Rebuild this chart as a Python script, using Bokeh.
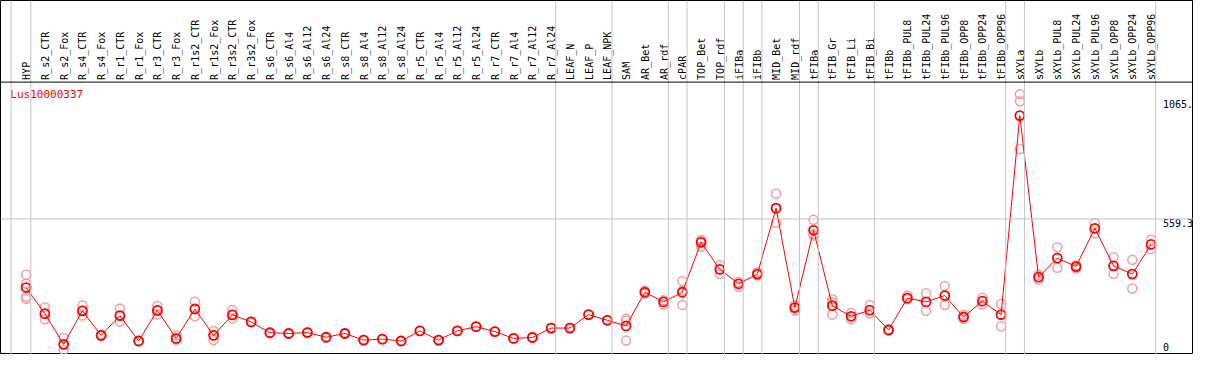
import math
from bokeh.plotting import figure
from bokeh.models import Range1d, Span, ColumnDataSource
from bokeh.embed import file_html
from bokeh.resources import INLINE
from bokeh.core.properties import value

title = "Lus10000337"

samples = [
    "HYP", "R_s2_CTR", "R_s2_Fox", "R_s4_CTR", "R_s4_Fox", "R_r1_CTR", "R_r1_Fox",
    "R_r3_CTR", "R_r3_Fox", "R_r1s2_CTR", "R_r1s2_Fox", "R_r3s2_CTR", "R_r3s2_Fox",
    "R_s6_CTR", "R_s6_Al4", "R_s6_Al12", "R_s6_Al24", "R_s8_CTR", "R_s8_Al4",
    "R_s8_Al12", "R_s8_Al24", "R_r5_CTR", "R_r5_Al4", "R_r5_Al12", "R_r5_Al24",
    "R_r7_CTR", "R_r7_Al4", "R_r7_Al12", "R_r7_Al24", "LEAF_N", "LEAF_P", "LEAF_NPK",
    "SAM", "AR_Bet", "AR_rdf", "cPAR", "TOP_Bet", "TOP_rdf", "iFIBa", "iFIBb",
    "MID_Bet", "MID_rdf", "tFIBa", "tFIB_Gr", "tFIB_Li", "tFIB_Bi", "tFIBb",
    "tFIBb_PUL8", "tFIBb_PUL24", "tFIBb_PUL96", "tFIBb_OPP8", "tFIBb_OPP24",
    "tFIBb_OPP96", "sXYLa", "sXYLb", "sXYLb_PUL8", "sXYLb_PUL24", "sXYLb_PUL96",
    "sXYLb_OPP8", "sXYLb_OPP24", "sXYLb_OPP96",
]

means = [
    268, 157, 27, 169, 65, 149, 41, 171, 52, 177, 65, 152, 122,
    76, 73, 77, 57, 73, 45, 49, 41, 84, 45, 84, 102, 81, 52, 56, 96,
    96, 153, 129, 105, 248, 207, 248, 460, 345, 284, 325, 605, 183,
    511, 191, 146, 172, 88, 223, 207, 234, 143, 210, 153,
    998, 312, 393, 357, 519, 360, 325, 451,
]

replicates = [
    [322, 284, 230, 220], [184, 133, 157], [54, 4, 27], [192, 149, 169],
    [62, 68, 65], [179, 123, 149], [42, 40], [190, 154, 171], [65, 46, 48],
    [208, 146, 177], [84, 45, 65], [173, 138, 152], [124, 120],
    [77, 75], [74, 72], [78, 76], [58, 56], [74, 72], [46, 44], [50, 48],
    [42, 40], [85, 83], [46, 44], [85, 83], [103, 101], [82, 80], [53, 51],
    [57, 55], [97, 95], [97, 95], [154, 152], [130, 128],
    [135, 127, 43], [255, 241], [196, 214], [295, 194, 255],
    [468, 441, 470], [363, 325], [292, 271], [333, 320], [667, 543, 605],
    [192, 171], [556, 489, 495], [218, 153, 206], [160, 133], [193, 158],
    [91, 85], [233, 218], [244, 169], [275, 194], [153, 135], [225, 196],
    [198, 104], [1089, 1059, 856], [322, 302], [439, 352], [349, 363],
    [541, 498], [397, 325], [386, 264], [471, 431],
]

group_ends = [0, 28, 31, 34, 35, 37, 38, 39, 41, 42, 45, 52, 53, 60]
ytick_values = [0, 559.3, 1065.0]
ytick_labels = ["0", "559.3", "1065."]

# ---- layout (reference pixel geometry -> data units) ----
W, H = 1193, 354
REF_W, REF_H = 1209, 370
col_px = 19.0
x_first = 26.0
y_zero = 366.0
px_per_unit = (366.0 - 228.3) / 559.3


def xi(ref_x):
    return (ref_x - x_first) / col_px


def yv(ref_y):
    return (y_zero - ref_y) / px_per_unit


p = figure(width=W, height=H, output_backend="svg", toolbar_location=None,
           x_range=Range1d(xi(0), xi(REF_W)), y_range=Range1d(yv(REF_H), yv(0)),
           x_axis_type=None, y_axis_type=None, min_border=0)
p.grid.visible = False
p.outline_line_color = "black"
p.outline_line_width = 1
p.background_fill_color = "white"
p.border_fill_color = "white"

grey = "#c4c4c4"
font = value("DejaVu Sans Mono")

# group separators
p.add_layout(Span(location=xi(10.7), dimension="height", line_color=grey, line_width=1))
for g in group_ends:
    p.add_layout(Span(location=g + 4.7 / col_px, dimension="height",
                      line_color=grey, line_width=1))
# horizontal grid at middle tick
p.add_layout(Span(location=ytick_values[1], dimension="width", line_color=grey, line_width=1))
# header separator
p.add_layout(Span(location=yv(85.3), dimension="width", line_color="black", line_width=1))

idx = list(range(len(samples)))

# header labels
hdr = ColumnDataSource(dict(x=idx, y=[yv(83)] * len(samples), t=samples))
p.text(x="x", y="y", text="t", source=hdr, angle=math.pi / 2, text_align="left",
       text_baseline="middle", x_offset=0.5, text_font=font, text_font_size="10px",
       text_color="black")

# title
p.text(x=[xi(10)], y=[yv(91)], text=[title], text_align="left", text_baseline="top",
       text_font=font, text_font_size="11px", text_color="#ff0000")

# right-side value labels
lab_x = xi(1178)
p.text(x=[lab_x, lab_x], y=ytick_values[1:], text=ytick_labels[1:], text_align="left",
       text_baseline="top", text_font=font, text_font_size="10px", text_color="black")
p.text(x=[lab_x], y=[ytick_values[0]], text=[ytick_labels[0]], text_align="left",
       text_baseline="bottom", text_font=font, text_font_size="10px", text_color="black")

# replicate points
rx, ry = [], []
for i, reps in enumerate(replicates):
    for r in reps:
        rx.append(i)
        ry.append(r)
p.scatter(rx, ry, marker="circle", size=9, fill_color=None,
          line_color="#f0a0a0", line_width=1.5)

# mean line & points
p.line(idx, means, line_color="#ff0000", line_width=1)
p.scatter(idx, means, marker="circle", size=9, fill_color=None,
          line_color="#ff0000", line_width=1.8)

open("out.html", "w").write(file_html(p, INLINE))
